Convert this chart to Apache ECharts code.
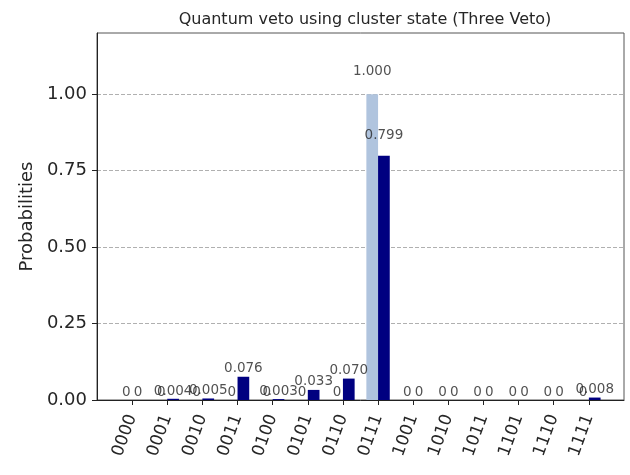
<!DOCTYPE html>
<html>
<head>
<meta charset="utf-8">
<script src="https://cdn.jsdelivr.net/npm/echarts@6/dist/echarts.min.js"></script>
<style>
  html, body { margin: 0; padding: 0; background: #fff; }
  #chart { width: 630px; height: 475px; }
</style>
</head>
<body>
<div id="chart"></div>
<script>
// basis states on the x axis
const states = ['0000', '0001', '0010', '0011', '0100', '0101', '0110', '0111',
                '1001', '1010', '1011', '1101', '1110', '1111'];
// ideal (light) and measured (navy) probabilities
const ideal = [0, 0, 0, 0, 0, 0, 0, 1.000, 0, 0, 0, 0, 0, 0];
const noisy = [0, 0.004, 0.005, 0.076, 0.003, 0.033, 0.070, 0.799, 0, 0, 0, 0, 0, 0.008];
const yTicks = [0, 0.25, 0.5, 0.75, 1.0];

const font = 'DejaVu Sans';
const barW = 1 / 3; // bar width in axis units, two bars per state

function fmt(v) {
  return v === 0 ? '0' : v.toFixed(3);
}

// labels sit just above each bar (at 1.05 x height)
function labelSeries(vals, shift) {
  return {
    type: 'scatter',
    symbolSize: 1,
    itemStyle: { color: 'transparent' },
    silent: true,
    z: 5,
    data: vals.map((v, i) => [i + shift, v * 1.05, v]),
    label: {
      show: true,
      position: 'top',
      distance: 0,
      color: '#262626',
      fontFamily: font,
      fontSize: 13.5,
      formatter: p => fmt(p.value[2])
    }
  };
}

const chart = echarts.init(document.getElementById('chart'));
chart.setOption({
  animation: false,
  title: {
    text: 'Quantum veto using cluster state (Three Veto)',
    left: 360,
    top: 7,
    textAlign: 'center',
    textStyle: { fontFamily: font, fontSize: 16, fontWeight: 'normal', color: '#262626' }
  },
  grid: {
    left: 97, right: 6, top: 33, bottom: 75,
    show: true,
    borderColor: '#555',
    borderWidth: 1,
    outerBoundsMode: 'none'
  },
  xAxis: {
    type: 'value',
    min: -1,
    max: 14,
    interval: 1,
    splitLine: { show: false },
    axisLine: { show: true, onZero: false, lineStyle: { color: '#222', width: 1 } },
    axisTick: {
      show: true, length: 5, customValues: states.map((s, i) => i),
      lineStyle: { color: '#222' }
    },
    axisLabel: {
      customValues: states.map((s, i) => i),
      rotate: 70,
      margin: 15,
      fontFamily: font,
      fontSize: 17,
      color: '#262626',
      formatter: v => states[Math.round(v)] || ''
    }
  },
  yAxis: {
    type: 'value',
    min: 0,
    max: 1.2,
    interval: 0.25,
    name: 'Probabilities',
    nameLocation: 'middle',
    nameGap: 56,
    nameTextStyle: { fontFamily: font, fontSize: 18, color: '#262626' },
    axisLine: { show: true, onZero: false, lineStyle: { color: '#222', width: 1 } },
    axisTick: {
      show: true, length: 5, customValues: yTicks,
      lineStyle: { color: '#222' }
    },
    axisLabel: {
      customValues: yTicks,
      margin: 10,
      fontFamily: font,
      fontSize: 18,
      color: '#262626',
      formatter: v => v.toFixed(2)
    },
    splitLine: {
      show: true,
      showMinLine: false,
      showMaxLine: true,
      lineStyle: { color: '#b0b0b0', type: [4, 2], width: 1 }
    }
  },
  series: [
    {
      name: 'ideal',
      type: 'bar',
      barWidth: 11.7,
      barGap: '0%',
      itemStyle: { color: '#b0c4de' },
      data: ideal.map((v, i) => [i, v])
    },
    {
      name: 'measured',
      type: 'bar',
      barWidth: 11.7,
      barGap: '0%',
      itemStyle: { color: '#000080' },
      data: noisy.map((v, i) => [i, v])
    },
    labelSeries(ideal, -barW / 2),
    labelSeries(noisy, barW / 2)
  ]
});
</script>
</body>
</html>
